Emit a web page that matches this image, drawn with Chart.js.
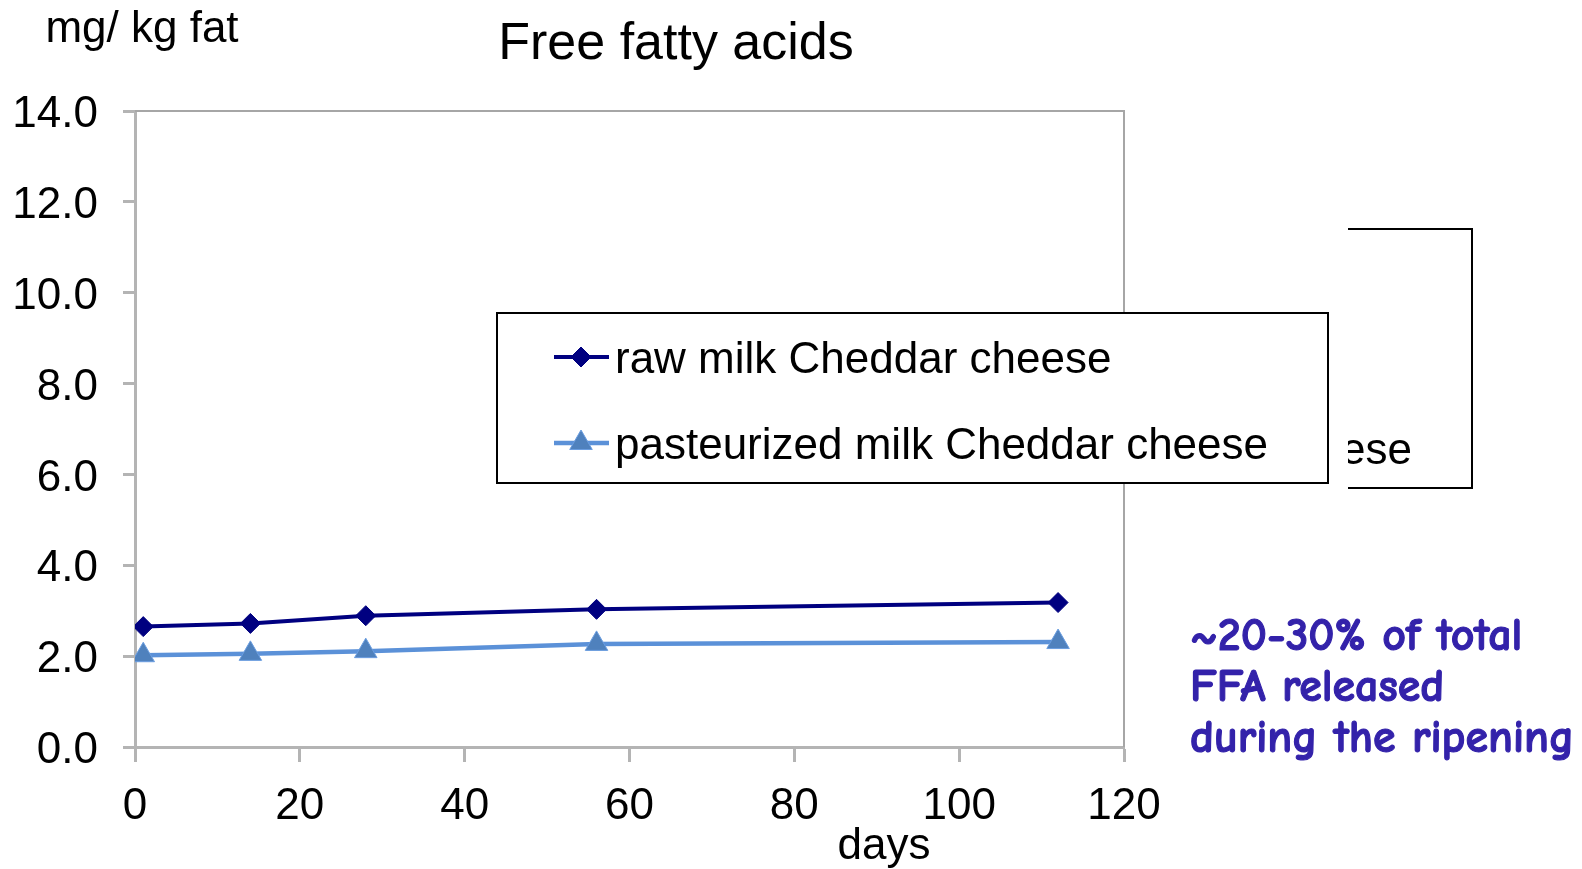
<!DOCTYPE html>
<html>
<head>
<meta charset="utf-8">
<title>Free fatty acids</title>
<script src="https://cdn.jsdelivr.net/npm/chart.js@4/dist/chart.umd.min.js"></script>
<style>
  html, body { margin: 0; padding: 0; background: #fff; }
  #wrap { width: 1582px; height: 869px; position: relative; }
</style>
</head>
<body>
<div id="wrap"><canvas id="ffaChart" width="1582" height="869"></canvas></div>
<script>
/* ---------- data ---------- */
const days = [1, 14, 28, 56, 112];
const rawMilk = [2.65, 2.72, 2.89, 3.03, 3.18];
const pasteurizedMilk = [2.02, 2.05, 2.11, 2.27, 2.31];
const seriesLabels = ["raw milk Cheddar cheese", "pasteurized milk Cheddar cheese"];
const xTicks = [0, 20, 40, 60, 80, 100, 120];
const yTicks = [0, 2, 4, 6, 8, 10, 12, 14];

const chartTitle = "Free fatty acids";
const yUnit = "mg/ kg fat";
const xTitle = "days";
const note = ["~20-30% of total", "FFA released", "during the ripening"];

const FONT = "'Liberation Sans', Arial, sans-serif";
const AXIS_GREY = "#b4b4b4";

/* ---------- decorations: frame, titles, legends, note ---------- */
const decorations = {
  id: "decorations",
  afterDatasetsDraw(chart) {
    const { ctx, chartArea: a } = chart;
    ctx.save();

    // top + right frame of the plot area
    ctx.strokeStyle = "#a6a6a6";
    ctx.lineWidth = 2;
    ctx.beginPath();
    ctx.moveTo(a.left, a.top);
    ctx.lineTo(a.right, a.top);
    ctx.lineTo(a.right, a.bottom);
    ctx.stroke();

    ctx.fillStyle = "#000";
    ctx.textBaseline = "middle";
    ctx.textAlign = "center";
    ctx.font = "52px " + FONT;
    ctx.fillText(chartTitle, 676, 45);
    ctx.font = "44px " + FONT;
    ctx.fillText(yUnit, 142, 30);
    ctx.fillText(xTitle, 884, 847);

    // half-hidden legend behind
    ctx.strokeStyle = "#000";
    ctx.lineWidth = 2;
    ctx.beginPath();
    ctx.moveTo(1348, 229);
    ctx.lineTo(1472, 229);
    ctx.lineTo(1472, 488);
    ctx.lineTo(1348, 488);
    ctx.stroke();
    ctx.save();
    ctx.beginPath();
    ctx.rect(1348, 229, 124, 259);
    ctx.clip();
    ctx.textAlign = "right";
    ctx.fillText("cheese", 1412, 452);
    ctx.restore();

    // front legend
    const lx = 497, ly = 313, lw = 831, lh = 170;
    ctx.fillStyle = "#fff";
    ctx.fillRect(lx, ly, lw, lh);
    ctx.strokeRect(lx, ly, lw, lh);
    const rows = [361, 447];
    chart.data.datasets.forEach((ds, i) => {
      const y = rows[i] - 4;
      ctx.strokeStyle = ds.borderColor;
      ctx.lineWidth = ds.borderWidth;
      ctx.beginPath();
      ctx.moveTo(554, y);
      ctx.lineTo(609, y);
      ctx.stroke();
      ctx.fillStyle = ds.pointBackgroundColor;
      ctx.strokeStyle = ds.pointBorderColor;
      ctx.lineWidth = ds.pointBorderWidth;
      Chart.helpers.drawPoint(ctx, {
        pointStyle: ds.pointStyle,
        radius: ds.pointRadius,
        borderWidth: ds.pointBorderWidth,
        rotation: 0
      }, 581, y);
      ctx.fillStyle = "#000";
      ctx.textAlign = "left";
      ctx.font = "44px " + FONT;
      ctx.fillText(ds.label, 615, rows[i]);
    });

    // comic note on the right (slight stroke to get the heavy look)
    ctx.fillStyle = "#3322aa";
    ctx.strokeStyle = "#3322aa";
    ctx.lineWidth = 1.1;
    ctx.lineJoin = "round";
    ctx.textAlign = "left";
    ctx.textBaseline = "alphabetic";
    let size = 44;
    const face = "'Comic Sans MS', 'Comic Neue', 'DejaVu Sans', sans-serif";
    ctx.font = "bold " + size + "px " + face;
    const w = ctx.measureText(note[2]).width;
    size = size * 384 / w;
    ctx.font = "bold " + size.toFixed(1) + "px " + face;
    note.forEach((line, i) => {
      ctx.fillText(line, 1190, 650 + i * 51);
      ctx.strokeText(line, 1190, 650 + i * 51);
    });

    ctx.restore();
  }
};

/* ---------- chart ---------- */
new Chart(document.getElementById("ffaChart"), {
  type: "line",
  data: {
    datasets: [{
      label: seriesLabels[0],
      data: days.map((d, i) => ({ x: d, y: rawMilk[i] })),
      borderColor: "#000080",
      backgroundColor: "#000080",
      borderWidth: 4,
      pointStyle: "rectRot",
      pointRadius: 10,
      pointBackgroundColor: "#000080",
      pointBorderColor: "#000080",
      pointBorderWidth: 1,
      tension: 0
    }, {
      label: seriesLabels[1],
      data: days.map((d, i) => ({ x: d, y: pasteurizedMilk[i] })),
      borderColor: "#5b91d8",
      backgroundColor: "#4f81bd",
      borderWidth: 4.5,
      pointStyle: "triangle",
      pointRadius: 13,
      pointBackgroundColor: "#4f81bd",
      pointBorderColor: "#6a9de0",
      pointBorderWidth: 1,
      tension: 0
    }]
  },
  options: {
    responsive: false,
    animation: false,
    devicePixelRatio: 1,
    layout: { padding: { top: 111, right: 458, left: 0, bottom: 0 } },
    plugins: {
      legend: { display: false },
      tooltip: { enabled: false },
      title: { display: false }
    },
    scales: {
      x: {
        type: "linear",
        min: xTicks[0],
        max: xTicks[xTicks.length - 1],
        afterBuildTicks: s => { s.ticks = xTicks.map(v => ({ value: v })); },
        afterFit: s => { s.height = 122; },
        border: { color: AXIS_GREY, width: 3 },
        grid: { drawOnChartArea: false, drawTicks: true, tickLength: 15, tickWidth: 3, tickColor: AXIS_GREY },
        ticks: { font: { size: 44, family: FONT }, color: "#000", padding: 18, maxRotation: 0 }
      },
      y: {
        min: yTicks[0],
        max: yTicks[yTicks.length - 1],
        afterBuildTicks: s => { s.ticks = yTicks.map(v => ({ value: v })); },
        afterFit: s => { s.width = 135; },
        border: { color: AXIS_GREY, width: 3 },
        grid: { drawOnChartArea: false, drawTicks: true, tickLength: 12, tickWidth: 3, tickColor: AXIS_GREY },
        ticks: {
          font: { size: 44, family: FONT }, color: "#000", padding: 25, labelOffset: 4,
          callback: v => Number(v).toFixed(1)
        }
      }
    }
  },
  plugins: [decorations]
});
</script>
</body>
</html>
